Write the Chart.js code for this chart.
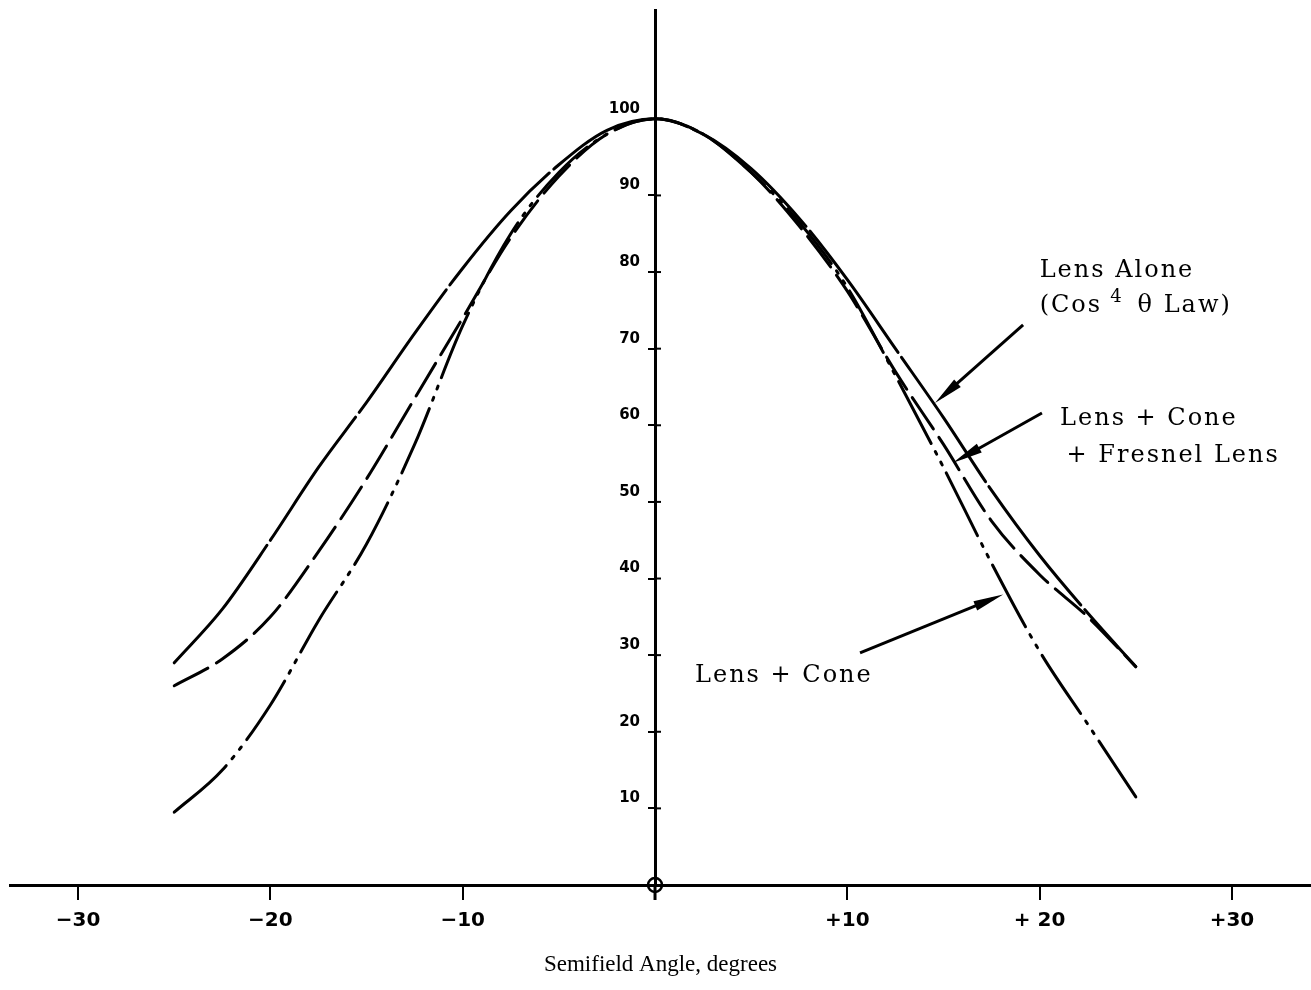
<!DOCTYPE html>
<html>
<head>
<meta charset="utf-8">
<title>Semifield Angle falloff</title>
<script src="https://cdn.jsdelivr.net/npm/chart.js@4.4.1/dist/chart.umd.min.js"></script>
<style>
  html, body { margin: 0; padding: 0; background: #fff; }
  #wrap { width: 1311px; height: 990px; }
</style>
</head>
<body>
<div id="wrap"><canvas id="chart"></canvas></div>
<script>
// Values, percent of on-axis response
const angles = [-25, -22.5, -20, -17.5, -15, -12.5, -10, -7.5, -5, -2.5, 0,
                2.5, 5, 7.5, 10, 12.5, 15, 17.5, 20, 22.5, 25];
const lensAlone = [29, 36, 45, 54.5, 63, 72, 80.5, 88, 94, 98.5, 100,
                   98, 93.5, 87, 79, 70, 61, 51.5, 43, 35.5, 28.5];
const lensConeFresnel = [26, 29.5, 35, 43.5, 53, 63.5, 74, 84.5, 92.5, 98, 100,
                         98, 93, 86, 77.5, 67, 57.5, 47.5, 40.5, 35, 28.5];
const lensCone = [9.5, 15, 23.5, 34.5, 44.5, 57.5, 73, 85, 93, 98, 100,
                  98, 93, 86.5, 78, 66.5, 54.5, 42, 30.5, 21, 11.5];

const xTicks = [-30, -20, -10, 0, 10, 20, 30];
const xTickLabels = ['\u221230', '\u221220', '\u221210', '', '+10', '+ 20', '+30'];
const yTicks = [10, 20, 30, 40, 50, 60, 70, 80, 90, 100];

// Callouts, placed in data units
const notes = [
  { text: 'Lens Alone', x: 20.0, y: 79.4 },
  { text: 'Lens + Cone', x: 21.06, y: 60.0 },
  { text: '+ Fresnel Lens', x: 21.4, y: 55.2 },
  { text: 'Lens + Cone', x: 2.08, y: 26.5 }
];
const arrows = [
  { from: [19.14, 73.1], to: [14.56, 62.9] },
  { from: [20.12, 61.6], to: [15.5, 55.1] },
  { from: [10.66, 30.3], to: [18.1, 37.9] }
];

function points(values) {
  return angles.map((a, i) => ({ x: a, y: values[i] }));
}

const serif = '"DejaVu Serif", "Liberation Serif", serif';

function drawArrow(ctx, x1, y1, x2, y2) {
  const ang = Math.atan2(y2 - y1, x2 - x1);
  const len = 30, half = 5;
  ctx.beginPath();
  ctx.moveTo(x1, y1);
  ctx.lineTo(x2 - Math.cos(ang) * 10, y2 - Math.sin(ang) * 10);
  ctx.stroke();
  ctx.beginPath();
  ctx.moveTo(x2, y2);
  ctx.lineTo(x2 - Math.cos(ang) * len - Math.sin(ang) * half, y2 - Math.sin(ang) * len + Math.cos(ang) * half);
  ctx.lineTo(x2 - Math.cos(ang) * len + Math.sin(ang) * half, y2 - Math.sin(ang) * len - Math.cos(ang) * half);
  ctx.closePath();
  ctx.fill();
}

const callouts = {
  id: 'callouts',
  afterDraw(chart) {
    const { ctx, scales: { x, y } } = chart;
    ctx.save();
    ctx.fillStyle = '#000';
    ctx.strokeStyle = '#000';

    // origin ring, stub of the y axis below zero, right half of the y ticks
    const ox = x.getPixelForValue(0), oy = y.getPixelForValue(0);
    ctx.lineWidth = 3;
    ctx.beginPath();
    ctx.moveTo(ox, oy);
    ctx.lineTo(ox, oy + 15);
    ctx.stroke();
    ctx.lineWidth = 2;
    y.ticks.forEach(t => {
      const ty = y.getPixelForValue(t.value);
      ctx.beginPath();
      ctx.moveTo(ox, ty);
      ctx.lineTo(ox + 6, ty);
      ctx.stroke();
    });
    ctx.lineWidth = 2.5;
    ctx.beginPath();
    ctx.arc(ox, oy, 7, 0, Math.PI * 2);
    ctx.stroke();

    ctx.font = '24px ' + serif;
    ctx.letterSpacing = '2px';
    ctx.textBaseline = 'alphabetic';
    notes.forEach(n => {
      ctx.fillText(n.text, x.getPixelForValue(n.x), y.getPixelForValue(n.y));
    });

    // "(Cos 4 θ Law)" with a raised 4
    let px = x.getPixelForValue(20.0);
    const py = y.getPixelForValue(74.8);
    ctx.fillText('(Cos', px, py);
    px += ctx.measureText('(Cos').width + 8;
    ctx.font = '18px ' + serif;
    ctx.fillText('4', px, py - 10);
    px += ctx.measureText('4').width + 14;
    ctx.font = '24px ' + serif;
    ctx.fillText('\u03b8 Law)', px, py);

    ctx.lineWidth = 3;
    arrows.forEach(a => {
      drawArrow(ctx,
        x.getPixelForValue(a.from[0]), y.getPixelForValue(a.from[1]),
        x.getPixelForValue(a.to[0]), y.getPixelForValue(a.to[1]));
    });
    ctx.restore();
  }
};

const lineStyle = {
  borderColor: '#000',
  borderWidth: 3,
  borderCapStyle: 'round',
  pointRadius: 0,
  fill: false,
  cubicInterpolationMode: 'monotone'
};

new Chart(document.getElementById('chart'), {
  type: 'line',
  data: {
    datasets: [
      Object.assign({ label: 'Lens Alone (Cos\u2074 \u03b8 Law)', data: points(lensAlone), borderDash: [150, 6] }, lineStyle),
      Object.assign({ label: 'Lens + Cone + Fresnel Lens', data: points(lensConeFresnel), borderDash: [38, 10] }, lineStyle),
      Object.assign({ label: 'Lens + Cone', data: points(lensCone), borderDash: [70, 9, 3, 9, 3, 9] }, lineStyle)
    ]
  },
  options: {
    responsive: true,
    maintainAspectRatio: false,
    animation: false,
    layout: { padding: { top: 10, left: 10, right: 0, bottom: 0 } },
    plugins: {
      legend: { display: false },
      tooltip: { enabled: false }
    },
    scales: {
      x: {
        type: 'linear',
        position: 'bottom',
        min: -33.54,
        max: 34.11,
        afterBuildTicks: s => { s.ticks = xTicks.map(v => ({ value: v })); },
        afterFit: s => { s.height = 105; s.paddingLeft = 0; s.paddingRight = 0; },
        ticks: {
          color: '#000',
          padding: 9,
          maxRotation: 0,
          font: { family: '"DejaVu Sans", sans-serif', size: 20, weight: 'bold' },
          callback: v => xTickLabels[xTicks.indexOf(v)]
        },
        grid: { drawOnChartArea: false, drawTicks: true, tickLength: 15, color: '#000', lineWidth: 2 },
        border: { display: true, color: '#000', width: 3 },
        title: {
          display: true,
          text: 'Semifield Angle, degrees',
          color: '#000',
          font: { family: '"Liberation Serif", serif', size: 23 },
          padding: { top: 0, bottom: 11 }
        }
      },
      y: {
        type: 'linear',
        position: { x: 0 },
        min: 0,
        max: 114.2,
        afterBuildTicks: s => { s.ticks = yTicks.map(v => ({ value: v })); },
        afterFit: s => { s.width = 0; s.paddingTop = 0; s.paddingBottom = 0; },
        ticks: {
          color: '#000',
          labelOffset: -10,
          font: { family: '"DejaVu Sans", sans-serif', size: 15, weight: 'bold' },
          // labels sit a little clear of the axis line
          callback: v => String(v) + '\u2002\u2002'
        },
        grid: { drawOnChartArea: false, drawTicks: true, tickLength: 6, color: '#000', lineWidth: 2 },
        border: { display: true, color: '#000', width: 3 }
      }
    }
  },
  plugins: [callouts]
});
</script>
</body>
</html>
